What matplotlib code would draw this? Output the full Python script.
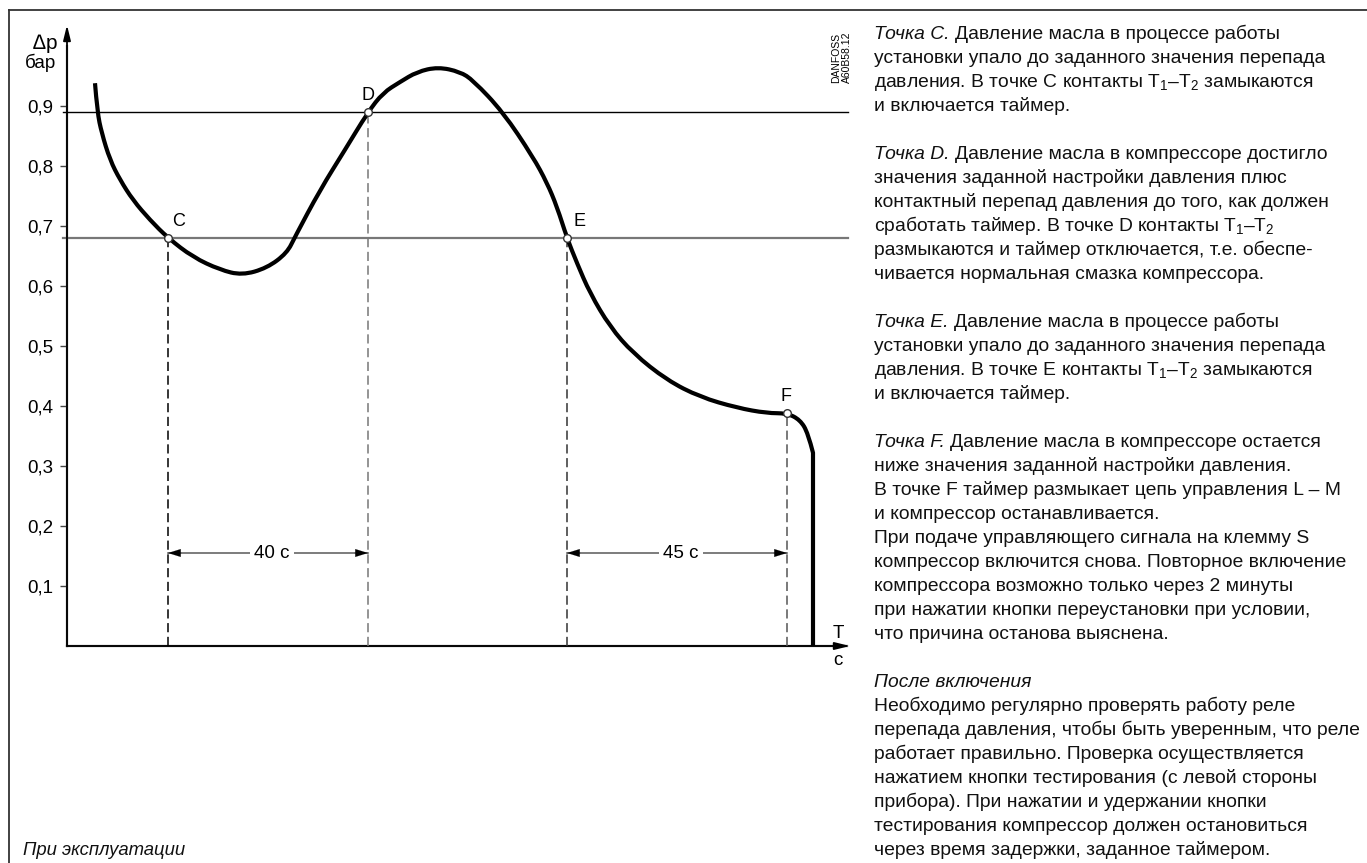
import matplotlib
matplotlib.use("Agg")
import matplotlib.pyplot as plt
from matplotlib.lines import Line2D
from matplotlib.path import Path
from matplotlib.patches import PathPatch

plt.rcParams['font.family'] = ['Liberation Sans', 'DejaVu Sans']
plt.rcParams['mathtext.fontset'] = 'custom'
plt.rcParams['mathtext.rm'] = 'Liberation Sans'
plt.rcParams['mathtext.it'] = 'Liberation Sans:italic'

# ---------------- data ----------------
curve_t = [5.6, 6.06, 6.94, 8.6, 10.6, 13.2, 16.6, 20.2, 25.2, 30.6, 35.0, 40.0, 44.0,
           45.6, 50.6, 55.6, 60.2, 63.2, 66.6, 70.0, 74.2, 78.6, 81.2, 87.2, 93.2, 96.0,
           98.0, 100.0, 102.0, 104.6, 108.6, 113.2, 120.0, 126.6, 134.0, 140.0, 144.0,
           146.6, 148.2, 149.2, 149.2]
curve_p = [0.938, 0.890, 0.855, 0.810, 0.777, 0.743, 0.710, 0.680, 0.648, 0.627, 0.618,
           0.630, 0.655, 0.682, 0.760, 0.827, 0.890, 0.922, 0.940, 0.957, 0.965, 0.957,
           0.943, 0.890, 0.815, 0.772, 0.732, 0.680, 0.638, 0.588, 0.532, 0.488, 0.443,
           0.415, 0.397, 0.388, 0.388, 0.377, 0.355, 0.322, 0.0]

point_names = ['C', 'D', 'E', 'F']
point_t = [20.2, 60.2, 100.0, 144.0]
point_p = [0.680, 0.890, 0.680, 0.388]

level_high = 0.89
level_low = 0.68

ytick_values = [0.1, 0.2, 0.3, 0.4, 0.5, 0.6, 0.7, 0.8, 0.9]
ytick_labels = ['0,1', '0,2', '0,3', '0,4', '0,5', '0,6', '0,7', '0,8', '0,9']

interval_labels = ['40 c', '45 c']
interval_from = ['C', 'E']
interval_to = ['D', 'F']
interval_level = 0.155

T12 = 'T$_1$–T$_2$'
text_lines = [
    ('Точка C.', 'Давление масла в процессе работы'),
    ('', 'установки упало до заданного значения перепада'),
    ('', 'давления. В точке C контакты ' + T12 + ' замыкаются'),
    ('', 'и включается таймер.'),
    None,
    ('Точка D.', 'Давление масла в компрессоре достигло'),
    ('', 'значения заданной настройки давления плюс'),
    ('', 'контактный перепад давления до того, как должен'),
    ('', 'сработать таймер. В точке D контакты ' + T12),
    ('', 'размыкаются и таймер отключается, т.е. обеспе-'),
    ('', 'чивается нормальная смазка компрессора.'),
    None,
    ('Точка E.', 'Давление масла в процессе работы'),
    ('', 'установки упало до заданного значения перепада'),
    ('', 'давления. В точке E контакты ' + T12 + ' замыкаются'),
    ('', 'и включается таймер.'),
    None,
    ('Точка F.', 'Давление масла в компрессоре остается'),
    ('', 'ниже значения заданной настройки давления.'),
    ('', 'В точке F таймер размыкает цепь управления L – M'),
    ('', 'и компрессор останавливается.'),
    ('', 'При подаче управляющего сигнала на клемму S'),
    ('', 'компрессор включится снова. Повторное включение'),
    ('', 'компрессора возможно только через 2 минуты'),
    ('', 'при нажатии кнопки переустановки при условии,'),
    ('', 'что причина останова выяснена.'),
    None,
    ('После включения', ''),
    ('', 'Необходимо регулярно проверять работу реле'),
    ('', 'перепада давления, чтобы быть уверенным, что реле'),
    ('', 'работает правильно. Проверка осуществляется'),
    ('', 'нажатием кнопки тестирования (с левой стороны'),
    ('', 'прибора). При нажатии и удержании кнопки'),
    ('', 'тестирования компрессор должен остановиться'),
    ('', 'через время задержки, заданное таймером.'),
]
footer_left = 'При эксплуатации'

# ---------------- figure ----------------
W, H = 1367, 863
fig = plt.figure(figsize=(W / 100, H / 100), dpi=100)
fig.patch.set_facecolor('white')

def fx(px):
    return px / W

def fy(py):
    return 1 - py / H

# frame (top and left)
fig.add_artist(Line2D([fx(9), fx(W)], [fy(10), fy(10)], color='#333333', lw=1.3))
fig.add_artist(Line2D([fx(9), fx(9)], [fy(10), fy(H)], color='#333333', lw=1.3))

ax = fig.add_axes([fx(67), fy(646), 783 / W, 621 / H])
ax.set_xlim(0, 156.6)
ax.set_ylim(0, 1.035)
for s in ax.spines.values():
    s.set_visible(False)
ax.set_xticks([])
ax.set_yticks(ytick_values)
ax.set_yticklabels(ytick_labels, fontsize=13.5)
ax.tick_params(axis='y', length=5, width=1, color='#444444', pad=5, direction='out')
ax.patch.set_alpha(0)

axis_col = '#555555'
ax.annotate('', xy=(0, 1.035), xytext=(0, 0), xycoords='data',
            arrowprops=dict(arrowstyle='-|>,head_length=0.9,head_width=0.22', color='black',
                            lw=1.3, shrinkA=0, shrinkB=0), annotation_clip=False)
ax.annotate('', xy=(156.6, 0), xytext=(0, 0), xycoords='data',
            arrowprops=dict(arrowstyle='-|>,head_length=0.9,head_width=0.22', color='black',
                            lw=1.3, shrinkA=0, shrinkB=0), annotation_clip=False)
ax.plot([0, 156.0], [0, 0], color=axis_col, lw=1.6, clip_on=False, zorder=2)
ax.plot([0, 0], [0, 1.0], color=axis_col, lw=1.6, clip_on=False, zorder=2)

# threshold lines
ax.plot([-0.8, 156.2], [level_high, level_high], color='black', lw=1.0, clip_on=False)
ax.plot([-0.8, 156.2], [level_low, level_low], color='#777777', lw=1.6, clip_on=False)

# dashed verticals
dash_cols = ['black', '#777777', '#333333', '#555555']
for t, p, c in zip(point_t, point_p, dash_cols):
    ax.plot([t, t], [0, p], color=c, lw=1.1, linestyle=(0, (6, 3)), zorder=3)

# main curve: smooth quadratic path through the read points (vertical drop kept straight)
pts = list(zip(curve_t, curve_p))
smooth = pts[:-1]
verts = [smooth[0]]
codes = [Path.MOVETO]
for i in range(1, len(smooth) - 1):
    p_ctrl = smooth[i]
    nxt = smooth[i + 1]
    end = nxt if i == len(smooth) - 2 else ((p_ctrl[0] + nxt[0]) / 2, (p_ctrl[1] + nxt[1]) / 2)
    verts += [p_ctrl, end]
    codes += [Path.CURVE3, Path.CURVE3]
verts.append(pts[-1])
codes.append(Path.LINETO)
ax.add_patch(PathPatch(Path(verts, codes), transform=ax.transData, fill=False,
                       edgecolor='black', lw=3.0, joinstyle='round', capstyle='butt',
                       zorder=5, clip_on=False))

# points
ax.plot(point_t, point_p, linestyle='none', marker='o', markersize=5.5,
        markerfacecolor='white', markeredgecolor='#333333', markeredgewidth=1.0, zorder=6)
label_off = {'C': (3, 6), 'D': (-5, 6), 'E': (5, 6), 'F': (-5, 6)}
for n, t, p in zip(point_names, point_t, point_p):
    dx, dy = label_off[n]
    ax.annotate(n, xy=(t, p), xytext=(dx, dy), textcoords='offset points',
                ha='left', va='bottom', fontsize=13, color='black', zorder=7)

# interval dimension arrows
pos = dict(zip(point_names, point_t))
for lab, a, b in zip(interval_labels, interval_from, interval_to):
    ta, tb = pos[a], pos[b]
    ax.plot([ta, tb], [interval_level, interval_level], color='#666666', lw=1.2, zorder=3)
    for tt, sgn in ((ta, 1), (tb, -1)):
        ax.annotate('', xy=(tt, interval_level), xytext=(sgn * 10, 0), textcoords='offset points',
                    arrowprops=dict(arrowstyle='-|>,head_length=0.9,head_width=0.28',
                                    color='black', lw=0.1, shrinkA=0, shrinkB=0))
    ax.text((ta + tb) / 2 + 0.8, interval_level, lab, ha='center', va='center', fontsize=13.5,
            bbox=dict(boxstyle='square,pad=0.25', fc='white', ec='none'), zorder=4)

# axis labels
fig.text(fx(33), fy(49), '∆', fontsize=15, style='italic', ha='left', va='baseline')
fig.text(fx(46), fy(49), 'p', fontsize=15, ha='left', va='baseline')
fig.text(fx(25), fy(68), 'бар', fontsize=13.5, ha='left', va='baseline')
fig.text(fx(838), fy(638), 'T', fontsize=13.5, ha='center', va='baseline')
fig.text(fx(838), fy(665), 'c', fontsize=13.5, ha='center', va='baseline')

# DANFOSS code
fig.text(fx(842), fy(57), 'DANFOSS\nA60B58.12', fontsize=7.5, rotation=90,
         ha='center', va='center', linespacing=1.1, multialignment='left')

# right text block
FS = 13.9
x0 = fx(874)
for i, item in enumerate(text_lines):
    if item is None:
        continue
    ital, rest = item
    yb = fy(39 + 24 * i)
    if ital:
        t1 = fig.text(x0, yb, ital, fontsize=FS, style='italic', ha='left', va='baseline',
                      color='#111111')
        if rest:
            ax.annotate(rest, xy=(1, 0), xycoords=t1, xytext=(3.8, 0),
                        textcoords='offset points', ha='left', va='bottom',
                        fontsize=FS, color='#111111', annotation_clip=False)
    else:
        fig.text(x0, yb, rest, fontsize=FS, ha='left', va='baseline', color='#111111')

fig.text(fx(23), fy(855), footer_left, fontsize=13.3, style='italic', ha='left',
         va='baseline', color='#111111')

fig.savefig('out.png', dpi=100, facecolor='white')
